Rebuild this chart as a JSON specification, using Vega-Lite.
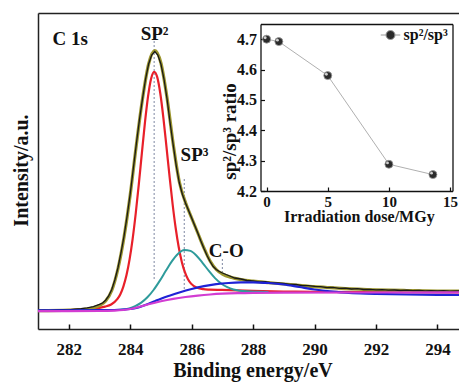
{
  "$schema": "https://vega.github.io/schema/vega-lite/v6.json",
  "width": 421,
  "height": 316,
  "autosize": {"type": "none"},
  "padding": {"left": 38, "top": 13, "right": 0, "bottom": 54},
  "background": "white",
  "config": {
    "view": {"stroke": null},
    "font": "Liberation Serif",
    "axis": {
      "grid": false,
      "labelFont": "Liberation Serif",
      "titleFont": "Liberation Serif",
      "labelFontWeight": "bold",
      "titleFontWeight": "bold",
      "labelColor": "#111111",
      "titleColor": "#111111",
      "domainColor": "#222222",
      "tickColor": "#111111",
      "zindex": 1
    },
    "legend": {"labelFont": "Liberation Serif", "labelFontWeight": "bold", "labelColor": "#111111"}
  },
  "datasets": {
    "red": [
      {"E": 282.0, "I": 19.0}, {"E": 282.6, "I": 19.8}, {"E": 283.0, "I": 21.2}, {"E": 283.18, "I": 22.4},
      {"E": 283.38, "I": 24.5}, {"E": 283.58, "I": 29.8}, {"E": 283.68, "I": 34.8}, {"E": 283.78, "I": 42.7},
      {"E": 283.88, "I": 53.9}, {"E": 283.98, "I": 69.6}, {"E": 284.08, "I": 90.2}, {"E": 284.18, "I": 115.5},
      {"E": 284.28, "I": 144.7}, {"E": 284.38, "I": 175.9}, {"E": 284.48, "I": 206.3}, {"E": 284.58, "I": 232.3},
      {"E": 284.68, "I": 250.3}, {"E": 284.78, "I": 257.2}, {"E": 284.88, "I": 251.9}, {"E": 284.98, "I": 235.5},
      {"E": 285.08, "I": 211.2}, {"E": 285.18, "I": 182.4}, {"E": 285.28, "I": 152.8}, {"E": 285.38, "I": 125.0},
      {"E": 285.48, "I": 101.0}, {"E": 285.58, "I": 81.7}, {"E": 285.68, "I": 67.1}, {"E": 285.78, "I": 56.8},
      {"E": 285.88, "I": 49.7}, {"E": 285.98, "I": 45.4}, {"E": 286.18, "I": 41.2}, {"E": 286.38, "I": 39.8},
      {"E": 286.58, "I": 39.4}, {"E": 286.98, "I": 39.1}, {"E": 287.48, "I": 38.6}, {"E": 287.98, "I": 38.1},
      {"E": 288.98, "I": 37.5}, {"E": 289.98, "I": 37.2}, {"E": 291.98, "I": 36.8}, {"E": 294.7, "I": 36.6}
    ],
    "cyan": [
      {"E": 283.36, "I": 18.9}, {"E": 283.76, "I": 19.5}, {"E": 283.96, "I": 20.6}, {"E": 284.16, "I": 22.8},
      {"E": 284.36, "I": 26.4}, {"E": 284.56, "I": 31.7}, {"E": 284.76, "I": 39.0}, {"E": 284.96, "I": 48.1},
      {"E": 285.16, "I": 58.2}, {"E": 285.36, "I": 67.9}, {"E": 285.56, "I": 75.3}, {"E": 285.76, "I": 79.0},
      {"E": 285.96, "I": 78.1}, {"E": 286.16, "I": 73.3}, {"E": 286.36, "I": 65.9}, {"E": 286.56, "I": 58.1},
      {"E": 286.76, "I": 50.9}, {"E": 286.96, "I": 45.5}, {"E": 287.16, "I": 41.8}, {"E": 287.36, "I": 39.5},
      {"E": 287.56, "I": 38.3}, {"E": 287.76, "I": 37.7}, {"E": 288.16, "I": 37.3}, {"E": 288.5, "I": 37.1}
    ],
    "env": [
      {"E": 281.0, "I": 18.3}, {"E": 282.0, "I": 18.8}, {"E": 282.5, "I": 19.6}, {"E": 282.8, "I": 21.3},
      {"E": 283.0, "I": 23.5}, {"E": 283.2, "I": 28.0}, {"E": 283.4, "I": 38.5}, {"E": 283.6, "I": 60.0},
      {"E": 283.8, "I": 92.0}, {"E": 284.0, "I": 134.0}, {"E": 284.2, "I": 184.0}, {"E": 284.4, "I": 230.0},
      {"E": 284.6, "I": 265.0}, {"E": 284.8, "I": 278.3}, {"E": 285.0, "I": 266.0}, {"E": 285.2, "I": 231.0},
      {"E": 285.4, "I": 185.0}, {"E": 285.6, "I": 147.0}, {"E": 285.8, "I": 126.5}, {"E": 286.0, "I": 111.0},
      {"E": 286.2, "I": 96.0}, {"E": 286.4, "I": 81.0}, {"E": 286.6, "I": 68.0}, {"E": 286.8, "I": 59.5},
      {"E": 287.0, "I": 55.0}, {"E": 287.3, "I": 51.5}, {"E": 287.6, "I": 49.5}, {"E": 288.0, "I": 47.8},
      {"E": 288.5, "I": 46.3}, {"E": 289.0, "I": 45.0}, {"E": 289.5, "I": 43.6}, {"E": 290.0, "I": 42.3},
      {"E": 290.5, "I": 41.3}, {"E": 291.0, "I": 40.4}, {"E": 292.0, "I": 39.2}, {"E": 293.0, "I": 38.5},
      {"E": 294.0, "I": 38.0}, {"E": 294.7, "I": 37.8}
    ],
    "raw": [
      {"E": 281.0, "I": 18.6}, {"E": 281.2, "I": 18.9}, {"E": 281.4, "I": 18.7}, {"E": 281.6, "I": 19.1},
      {"E": 281.8, "I": 19.4}, {"E": 282.0, "I": 19.2}, {"E": 282.2, "I": 19.8}, {"E": 282.4, "I": 20.3},
      {"E": 282.6, "I": 21.2}, {"E": 282.8, "I": 22.4}, {"E": 283.0, "I": 24.6}, {"E": 283.1, "I": 26.0},
      {"E": 283.2, "I": 28.8}, {"E": 283.3, "I": 33.0}, {"E": 283.4, "I": 39.5}, {"E": 283.5, "I": 49.0},
      {"E": 283.6, "I": 61.0}, {"E": 283.7, "I": 76.0}, {"E": 283.8, "I": 93.0}, {"E": 283.9, "I": 113.0},
      {"E": 284.0, "I": 135.0}, {"E": 284.1, "I": 160.0}, {"E": 284.2, "I": 185.0}, {"E": 284.3, "I": 209.0},
      {"E": 284.4, "I": 230.0}, {"E": 284.5, "I": 250.0}, {"E": 284.6, "I": 265.0}, {"E": 284.7, "I": 274.0},
      {"E": 284.8, "I": 277.5}, {"E": 284.9, "I": 274.0}, {"E": 285.0, "I": 265.0}, {"E": 285.1, "I": 250.0},
      {"E": 285.2, "I": 230.0}, {"E": 285.3, "I": 206.0}, {"E": 285.4, "I": 184.0}, {"E": 285.5, "I": 163.0},
      {"E": 285.6, "I": 146.0}, {"E": 285.7, "I": 134.5}, {"E": 285.8, "I": 126.0}, {"E": 285.9, "I": 118.5},
      {"E": 286.0, "I": 111.0}, {"E": 286.1, "I": 103.5}, {"E": 286.2, "I": 96.0}, {"E": 286.3, "I": 88.0},
      {"E": 286.4, "I": 80.5}, {"E": 286.5, "I": 73.5}, {"E": 286.6, "I": 67.5}, {"E": 286.7, "I": 62.5},
      {"E": 286.8, "I": 59.5}, {"E": 286.9, "I": 57.5}, {"E": 287.0, "I": 56.0}, {"E": 287.2, "I": 53.5},
      {"E": 287.4, "I": 51.0}, {"E": 287.6, "I": 50.0}, {"E": 287.8, "I": 48.5}, {"E": 288.0, "I": 48.2},
      {"E": 288.2, "I": 47.2}, {"E": 288.4, "I": 47.3}, {"E": 288.6, "I": 46.2}, {"E": 288.8, "I": 46.0},
      {"E": 289.0, "I": 45.5}, {"E": 289.2, "I": 44.6}, {"E": 289.4, "I": 44.5}, {"E": 289.6, "I": 43.4},
      {"E": 289.8, "I": 43.4}, {"E": 290.0, "I": 42.6}, {"E": 290.2, "I": 42.4}, {"E": 290.4, "I": 41.3},
      {"E": 290.6, "I": 41.6}, {"E": 290.8, "I": 40.6}, {"E": 291.0, "I": 40.8}, {"E": 291.2, "I": 40.0},
      {"E": 291.4, "I": 40.3}, {"E": 291.6, "I": 39.5}, {"E": 291.8, "I": 39.7}, {"E": 292.0, "I": 39.1},
      {"E": 292.2, "I": 39.4}, {"E": 292.4, "I": 38.8}, {"E": 292.6, "I": 39.0}, {"E": 292.8, "I": 38.5},
      {"E": 293.0, "I": 38.9}, {"E": 293.2, "I": 38.3}, {"E": 293.4, "I": 38.6}, {"E": 293.6, "I": 38.1},
      {"E": 293.8, "I": 38.4}, {"E": 294.0, "I": 38.0}, {"E": 294.2, "I": 38.3}, {"E": 294.4, "I": 37.9},
      {"E": 294.6, "I": 38.2}, {"E": 294.7, "I": 38.0}
    ],
    "blue": [
      {"E": 281.0, "I": 18.7}, {"E": 283.0, "I": 18.8}, {"E": 283.5, "I": 19.0}, {"E": 284.0, "I": 20.0},
      {"E": 284.2, "I": 21.0}, {"E": 284.4, "I": 23.0}, {"E": 284.6, "I": 25.3}, {"E": 284.8, "I": 27.8},
      {"E": 285.0, "I": 30.3}, {"E": 285.3, "I": 33.5}, {"E": 285.6, "I": 36.5}, {"E": 286.0, "I": 40.0},
      {"E": 286.4, "I": 42.8}, {"E": 286.8, "I": 44.8}, {"E": 287.2, "I": 46.0}, {"E": 287.6, "I": 46.6},
      {"E": 288.0, "I": 46.7}, {"E": 288.5, "I": 46.0}, {"E": 289.0, "I": 44.5}, {"E": 289.5, "I": 42.0},
      {"E": 290.0, "I": 39.5}, {"E": 290.5, "I": 37.6}, {"E": 291.0, "I": 36.4}, {"E": 291.5, "I": 35.6},
      {"E": 292.0, "I": 35.1}, {"E": 293.0, "I": 34.5}, {"E": 294.0, "I": 34.2}, {"E": 294.7, "I": 34.0}
    ],
    "magenta": [
      {"E": 281.0, "I": 17.9}, {"E": 283.0, "I": 18.0}, {"E": 283.5, "I": 18.4}, {"E": 284.0, "I": 20.0},
      {"E": 284.3, "I": 22.2}, {"E": 284.6, "I": 24.8}, {"E": 285.0, "I": 27.8}, {"E": 285.4, "I": 30.2},
      {"E": 285.8, "I": 32.0}, {"E": 286.2, "I": 33.4}, {"E": 286.6, "I": 34.5}, {"E": 287.0, "I": 35.3},
      {"E": 287.5, "I": 35.9}, {"E": 288.0, "I": 36.2}, {"E": 289.0, "I": 36.4}, {"E": 291.0, "I": 36.5},
      {"E": 294.7, "I": 36.6}
    ],
    "guides": [
      {"E": 284.78, "I": 296, "I2": 50},
      {"E": 285.76, "I": 150, "I2": 37},
      {"E": 287.0, "I": 70, "I2": 55}
    ],
    "labels": [
      {"E": 281.47, "I": 284, "text": "C 1s"},
      {"E": 284.34, "I": 289.5, "text": "SP²"},
      {"E": 285.64, "I": 168, "text": "SP³"},
      {"E": 286.56, "I": 72, "text": "C-O"}
    ],
    "inset": [
      {"dose": 0, "ratio": 4.700, "series": "sp²/sp³"},
      {"dose": 1, "ratio": 4.692, "series": "sp²/sp³"},
      {"dose": 5, "ratio": 4.580, "series": "sp²/sp³"},
      {"dose": 10, "ratio": 4.288, "series": "sp²/sp³"},
      {"dose": 13.6, "ratio": 4.254, "series": "sp²/sp³"}
    ]
  },
  "layer": [
    {
      "layer": [
        {
          "encoding": {
            "x": {
              "field": "E", "type": "quantitative", "title": "Binding energy/eV",
              "scale": {"domain": [281, 294.7], "nice": false, "zero": false},
              "axis": {
                "orient": "bottom", "values": [282, 284, 286, 288, 290, 292, 294], "format": "d",
                "ticks": false, "domainWidth": 1.5, "labelPadding": 12,
                "labelFontSize": 17, "titleFontSize": 20, "titleX": 214.5, "titleY": 31, "titleBaseline": "top"
              }
            },
            "y": {
              "field": "I", "type": "quantitative", "title": "Intensity/a.u.",
              "scale": {"domain": [0, 316], "nice": false, "zero": false},
              "axis": {
                "orient": "left", "ticks": false, "labels": false, "domainWidth": 1.5,
                "titleFontSize": 20, "titleX": -7, "titleY": 157
              }
            }
          },
          "layer": [
            {
              "data": {"name": "guides"},
              "mark": {"type": "rule", "color": "#8a93ab", "strokeWidth": 1.1, "strokeDash": [2, 2]},
              "encoding": {"y2": {"field": "I2"}}
            },
            {"data": {"name": "red"}, "mark": {"type": "line", "interpolate": "monotone", "color": "#e8202a", "strokeWidth": 2.2}},
            {"data": {"name": "cyan"}, "mark": {"type": "line", "interpolate": "monotone", "color": "#2e9b9b", "strokeWidth": 2}},
            {"data": {"name": "env"}, "mark": {"type": "line", "interpolate": "monotone", "color": "#9c962e", "strokeWidth": 3.2}},
            {"data": {"name": "raw"}, "mark": {"type": "line", "interpolate": "linear", "color": "#1a1a1a", "strokeWidth": 1.3}},
            {"data": {"name": "blue"}, "mark": {"type": "line", "interpolate": "monotone", "color": "#1f22d6", "strokeWidth": 2.2}},
            {"data": {"name": "magenta"}, "mark": {"type": "line", "interpolate": "monotone", "color": "#d23cd2", "strokeWidth": 2.2}},
            {
              "data": {"name": "labels"},
              "mark": {"type": "text", "align": "left", "baseline": "alphabetic", "font": "Liberation Serif", "fontWeight": "bold", "fontSize": 19, "color": "#111111"},
              "encoding": {"text": {"field": "text"}}
            }
          ]
        },
        {
          "data": {"name": "guides"},
          "mark": {"type": "point", "opacity": 0},
          "encoding": {
            "x": {
              "field": "E", "type": "quantitative",
              "axis": {
                "orient": "top", "offset": -316, "values": [282, 284, 286, 288, 290, 292, 294],
                "labels": false, "domain": false, "title": null, "ticks": true, "tickSize": 5, "tickWidth": 1.5
              }
            },
            "y": {"field": "I", "type": "quantitative", "axis": null}
          }
        },
        {
          "data": {"name": "guides"},
          "mark": {"type": "point", "opacity": 0},
          "encoding": {
            "x": {
              "field": "E", "type": "quantitative",
              "axis": {
                "orient": "top", "offset": 0, "labels": false, "domain": true, "domainWidth": 1.5,
                "title": null, "ticks": false
              }
            },
            "y": {"field": "I", "type": "quantitative", "axis": null}
          }
        }
      ],
      "resolve": {"axis": {"x": "independent", "y": "independent"}}
    },
    {
      "data": {"name": "inset"},
      "layer": [
        {
          "encoding": {
            "x": {
              "field": "dose", "type": "quantitative", "title": "Irradiation dose/MGy",
              "scale": {"domain": [-0.5, 15.2], "range": [222.5, 414.5], "nice": false, "zero": false},
              "axis": {
                "orient": "bottom", "offset": -138, "values": [0, 5, 10, 15], "format": "d",
                "domain": true, "domainWidth": 1.3, "domainColor": "#111111",
                "ticks": false, "labelPadding": 3, "labelFontSize": 15,
                "titleFontSize": 16, "titleX": 320.8, "titleY": 17.5, "titleBaseline": "top"
              }
            },
            "y": {
              "field": "ratio", "type": "quantitative", "title": "sp²/sp³ ratio",
              "scale": {"domain": [4.2, 4.75], "range": [178, 11], "nice": false, "zero": false},
              "axis": {
                "orient": "left", "offset": -222.5, "values": [4.2, 4.3, 4.4, 4.5, 4.6, 4.7], "format": ".1f",
                "domain": true, "domainWidth": 1.3, "domainColor": "#111111",
                "ticks": false, "labelPadding": 4, "labelFontSize": 16,
                "titleFontSize": 19, "titleX": -21, "titleY": 118
              }
            }
          },
          "layer": [
            {"mark": {"type": "line", "color": "#b0b0b0", "strokeWidth": 1}},
            {
              "mark": {"type": "point", "filled": true, "size": 64, "opacity": 1, "stroke": "#9a9a9a", "strokeWidth": 0.8},
              "encoding": {
                "color": {
                  "field": "series", "type": "nominal",
                  "scale": {"range": ["#2b2b2b"]},
                  "legend": {
                    "orient": "none", "legendX": 344.5, "legendY": 14, "title": null, "padding": 0,
                    "symbolType": "M-1.3,0H-0.6M0.6,0H1.3M0.6,0A0.6,0.6,0,1,1,-0.6,0A0.6,0.6,0,1,1,0.6,0Z",
                    "symbolSize": 225, "symbolStrokeColor": "#9a9a9a", "symbolStrokeWidth": 1,
                    "labelFontSize": 16, "labelOffset": 5
                  }
                }
              }
            },
            {"mark": {"type": "point", "filled": true, "size": 8, "opacity": 1, "color": "#d0d0d0", "xOffset": -1.4, "yOffset": -1.4}}
          ]
        },
        {
          "mark": {"type": "line", "opacity": 0},
          "encoding": {
            "x": {
              "field": "dose", "type": "quantitative",
              "axis": {"orient": "top", "offset": -11, "labels": false, "ticks": false, "title": null, "domain": true, "domainWidth": 1.3, "domainColor": "#111111"}
            },
            "y": {
              "field": "ratio", "type": "quantitative",
              "axis": {"orient": "right", "offset": -6.5, "labels": false, "ticks": false, "title": null, "domain": true, "domainWidth": 1.3, "domainColor": "#111111"}
            }
          }
        },
        {
          "mark": {"type": "line", "opacity": 0},
          "encoding": {
            "x": {
              "field": "dose", "type": "quantitative",
              "axis": {"orient": "top", "offset": -178, "values": [0, 5, 10, 15], "labels": false, "ticks": true, "tickSize": 4, "tickWidth": 1.2, "title": null, "domain": false}
            },
            "y": {
              "field": "ratio", "type": "quantitative",
              "axis": {"orient": "right", "offset": -198.5, "values": [4.2, 4.3, 4.4, 4.5, 4.6, 4.7], "labels": false, "ticks": true, "tickSize": 4, "tickWidth": 1.2, "title": null, "domain": false}
            }
          }
        }
      ],
      "resolve": {"axis": {"x": "independent", "y": "independent"}}
    }
  ],
  "resolve": {"scale": {"x": "independent", "y": "independent"}}
}
